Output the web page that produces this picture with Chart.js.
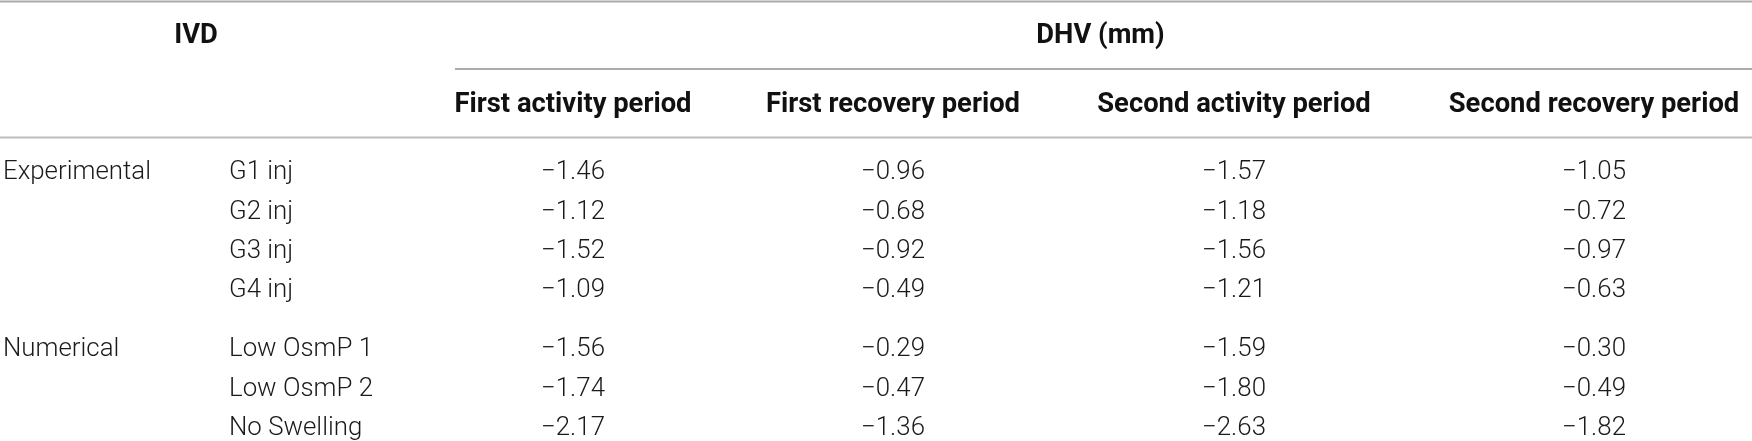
<!DOCTYPE html>
<html>
<head>
<meta charset="utf-8">
<script src="https://cdn.jsdelivr.net/npm/chart.js@4"></script>
<style>
  html, body { margin: 0; padding: 0; background: #ffffff; }
  #wrap { width: 1752px; height: 441px; position: relative; }
</style>
</head>
<body>
<div id="wrap"><canvas id="c"></canvas></div>
<script>
// ---------- data ----------
const groupLabels = ["Experimental", "Numerical"];
const groupStartRow = [0, 4];
const rowLabels = ["G1 inj", "G2 inj", "G3 inj", "G4 inj", "Low OsmP 1", "Low OsmP 2", "No Swelling"];
const spanHeader = "DHV (mm)";
const stubHeader = "IVD";
const periods = ["First activity period", "First recovery period", "Second activity period", "Second recovery period"];
const firstActivity  = [-1.46, -1.12, -1.52, -1.09, -1.56, -1.74, -2.17];
const firstRecovery  = [-0.96, -0.68, -0.92, -0.49, -0.29, -0.47, -1.36];
const secondActivity = [-1.57, -1.18, -1.56, -1.21, -1.59, -1.80, -2.63];
const secondRecovery = [-1.05, -0.72, -0.97, -0.63, -0.30, -0.49, -1.82];
const seriesValues = [firstActivity, firstRecovery, secondActivity, secondRecovery];

// ---------- layout (table units on the chart's scales) ----------
const layout = {
  width: 1752, height: 441,
  groupX: 3, labelX: 229, stubCenterX: 196,
  colCenters: [573, 893, 1234, 1594],
  spanLeft: 455, spanRight: 1752,
  topLineY: 1.5, stubHeaderY: 33, spanLineY: 69, colHeaderY: 102, headLineY: 137.5,
  firstRowY: 170, rowStep: 39.4, groupGap: 19.5
};
function rowY(i) {
  let extra = 0;
  for (let g = 1; g < groupStartRow.length; g++) if (i >= groupStartRow[g]) extra += layout.groupGap;
  return layout.firstRowY + i * layout.rowStep + extra;
}
const fmt = v => v.toFixed(2).replace('-', '\u2212');

const datasets = seriesValues.map((vals, k) => ({
  label: periods[k],
  data: vals.map((v, i) => ({ x: layout.colCenters[k], y: rowY(i), v: v })),
  pointRadius: 0, pointHoverRadius: 0, showLine: false
}));

const BODY_FAMILY = "Roboto, 'Liberation Sans', sans-serif";
const HEAD_FAMILY = "Roboto, 'Liberation Sans', sans-serif";

function fitSize(ctx, weight, family, text, targetW) {
  ctx.font = weight + " 100px " + family;
  const w = ctx.measureText(text).width;
  return 100 * targetW / w;
}

const tablePlugin = {
  id: 'tableDraw',
  afterDatasetsDraw(chart) {
    const ctx = chart.ctx;
    const xs = chart.scales.x, ys = chart.scales.y;
    const X = v => xs.getPixelForValue(v), Y = v => ys.getPixelForValue(v);
    ctx.save();
    const bodySize = fitSize(ctx, "300", BODY_FAMILY, "Experimental", 148);
    const headSize = fitSize(ctx, "bold", HEAD_FAMILY, "First activity period", 237);
    const bodyFont = "300 " + bodySize.toFixed(2) + "px " + BODY_FAMILY;
    const headFont = "bold " + headSize.toFixed(2) + "px " + HEAD_FAMILY;
    const capB = bodySize * 0.355, capH = headSize * 0.355;

    // rules
    function hline(x0, x1, y, w, col) {
      ctx.beginPath(); ctx.strokeStyle = col; ctx.lineWidth = w;
      ctx.moveTo(X(x0), Y(y)); ctx.lineTo(X(x1), Y(y)); ctx.stroke();
    }
    hline(0, layout.width, layout.topLineY, 2, "#a9a9a9");
    hline(layout.spanLeft, layout.spanRight, layout.spanLineY, 1.6, "#8f8f8f");
    hline(0, layout.width, layout.headLineY, 2, "#bdbdbd");

    // headers
    ctx.fillStyle = "#111111";
    ctx.font = headFont;
    ctx.textBaseline = "alphabetic";
    ctx.textAlign = "center";
    ctx.fillText(stubHeader, X(layout.stubCenterX), Y(layout.stubHeaderY) + capH);
    ctx.fillText(spanHeader, X((layout.spanLeft + layout.spanRight) / 2 - 3), Y(layout.stubHeaderY) + capH);
    periods.forEach((p, k) => ctx.fillText(p, X(layout.colCenters[k]), Y(layout.colHeaderY) + capH));

    // stub
    ctx.fillStyle = "#1a1a1a";
    ctx.font = bodyFont;
    ctx.textAlign = "left";
    groupLabels.forEach((g, j) => ctx.fillText(g, X(layout.groupX), Y(rowY(groupStartRow[j])) + capB));
    rowLabels.forEach((r, i) => ctx.fillText(r, X(layout.labelX), Y(rowY(i)) + capB));

    // cells, at the positions the library computed for each point
    ctx.textAlign = "center";
    chart.data.datasets.forEach((ds, k) => {
      const meta = chart.getDatasetMeta(k);
      meta.data.forEach((el, i) => {
        ctx.fillText(fmt(ds.data[i].v), el.x, el.y + capB);
      });
    });
    ctx.restore();
  }
};

new Chart(document.getElementById('c'), {
  type: 'scatter',
  data: { datasets: datasets },
  options: {
    responsive: true, maintainAspectRatio: false, animation: false,
    layout: { padding: 0 },
    plugins: { legend: { display: false }, tooltip: { enabled: false } },
    events: [],
    scales: {
      x: { type: 'linear', min: 0, max: layout.width, display: false },
      y: { type: 'linear', min: 0, max: layout.height, reverse: true, display: false }
    }
  },
  plugins: [tablePlugin]
});
</script>
</body>
</html>
